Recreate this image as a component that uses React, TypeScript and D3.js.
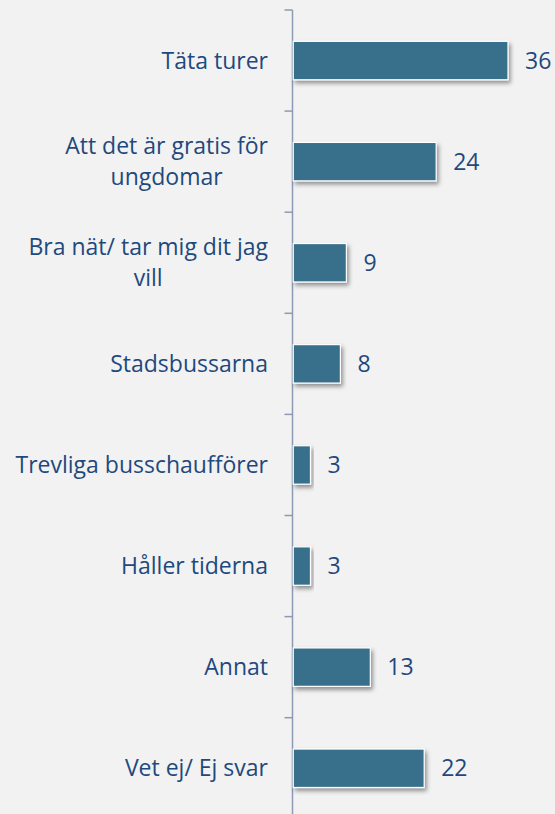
import React, { useLayoutEffect, useRef, useState } from "react";
import * as d3 from "d3";

const categories: string[][] = [
  ["Täta turer"],
  ["Att det är gratis för", "ungdomar"],
  ["Bra nät/ tar mig dit jag", "vill"],
  ["Stadsbussarna"],
  ["Trevliga busschaufförer"],
  ["Håller tiderna"],
  ["Annat"],
  ["Vet ej/ Ej svar"],
];
const values: number[] = [36, 24, 9, 8, 3, 3, 13, 22];
const ids = categories.map((_, i) => String(i));

const W = 555;
const H = 814;
const axisX = 292.5;
const top = 10;
const band = 101.1;
const labelRight = 268;
const labelSize = 23;
const font = "'Open Sans', sans-serif";

export default function App() {
  const y = d3
    .scaleBand<string>()
    .domain(ids)
    .range([top, top + band * ids.length])
    .paddingInner(0.62)
    .paddingOuter(0.31);
  const x = d3.scaleLinear().domain([0, 36]).range([axisX, axisX + 215.5]);
  const tickYs = d3.range(ids.length + 1).map((i) => top + i * band);
  const textColor = "#1f497d";
  const lh = 31;

  const firstRefs = useRef<(SVGTextElement | null)[]>([]);
  const [widths, setWidths] = useState<number[]>(categories.map(() => 0));
  useLayoutEffect(() => {
    const measureAll = () => {
      setWidths(
        categories.map((_, i) => {
          const el = firstRefs.current[i];
          return el ? el.getComputedTextLength() : 0;
        })
      );
    };
    measureAll();
    if ((document as any).fonts && (document as any).fonts.ready) {
      (document as any).fonts.ready.then(measureAll);
    }
  }, []);

  return (
    <div style={{ position: "fixed", left: 0, top: 0, width: W, height: H }}>
      <svg width={W} height={H} style={{ display: "block", background: "#f2f2f2" }}>
        <defs>
          <filter id="sh" x="-20%" y="-20%" width="140%" height="160%">
            <feDropShadow dx="2" dy="3" stdDeviation="2" floodColor="#000" floodOpacity="0.4" />
          </filter>
        </defs>
        <line x1={axisX} x2={axisX} y1={top} y2={H + 10} stroke="#8e9ab3" strokeWidth={1.5} />
        {tickYs.map((t, i) => (
          <line key={i} x1={axisX - 8} x2={axisX} y1={t} y2={t} stroke="#8e9ab3" strokeWidth={1.5} />
        ))}
        {ids.map((id, i) => {
          const by = y(id)!;
          const bh = y.bandwidth();
          const cy = by + bh / 2;
          const lines = categories[i];
          const centerX = labelRight - widths[i] / 2;
          return (
            <g key={id}>
              <rect
                x={axisX + 0.75}
                y={by}
                width={x(values[i]) - axisX - 0.75}
                height={bh}
                fill="#376f8b"
                stroke="#ffffff"
                strokeWidth={1.2}
                filter="url(#sh)"
              />
              <text
                x={x(values[i]) + 17}
                y={cy}
                dy="0.35em"
                fontFamily={font}
                fontSize={23}
                fill={textColor}
              >
                {values[i]}
              </text>
              {lines.map((ln, j) => (
                <text
                  key={j}
                  ref={j === 0 ? (el) => { firstRefs.current[i] = el; } : undefined}
                  x={j === 0 ? labelRight : centerX}
                  y={cy + (j - (lines.length - 1) / 2) * lh}
                  dy="0.35em"
                  textAnchor={j === 0 ? "end" : "middle"}
                  fontFamily={font}
                  fontSize={labelSize}
                  fill={textColor}
                >
                  {ln}
                </text>
              ))}
            </g>
          );
        })}
      </svg>
    </div>
  );
}
